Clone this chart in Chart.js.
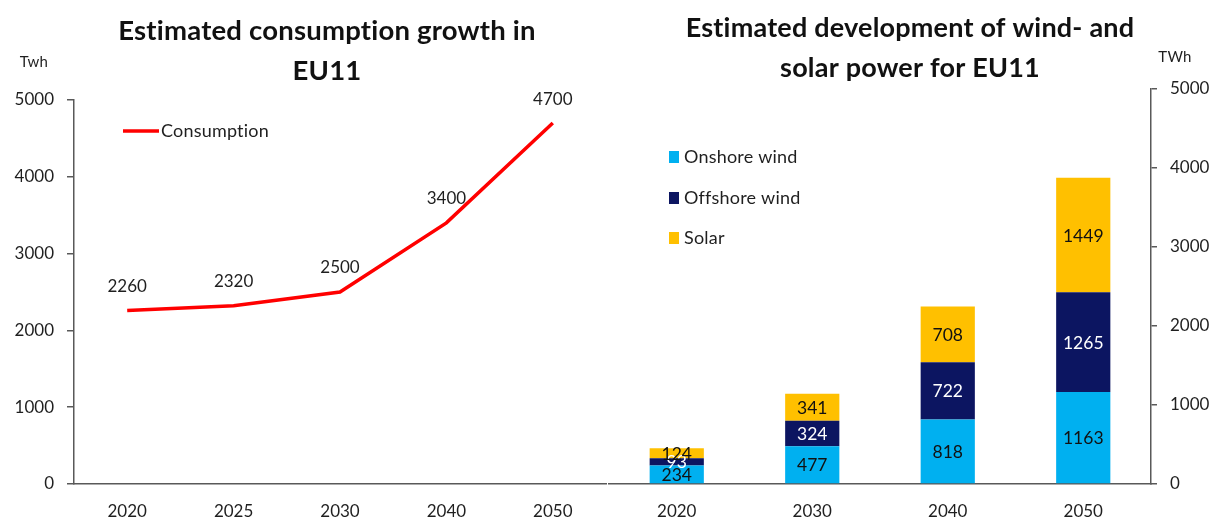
<!DOCTYPE html>
<html>
<head>
<meta charset="utf-8">
<script src="https://cdn.jsdelivr.net/npm/chart.js@4.4.1/dist/chart.umd.min.js"></script>
<style>
  html, body { margin: 0; padding: 0; background: #ffffff; }
  #wrap { position: relative; width: 1220px; height: 522px; overflow: hidden; }
  #leftBox { position: absolute; left: 0; top: 0; width: 610px; height: 522px; }
  #rightBox { position: absolute; left: 600px; top: 0; width: 620px; height: 522px; }
</style>
</head>
<body>
<div id="wrap">
  <div id="leftBox"><canvas id="consumption" width="610" height="522"></canvas></div>
  <div id="rightBox"><canvas id="renewables" width="620" height="522"></canvas></div>
</div>
<script>
// Consumption outlook (line chart)
const consumptionYears = ['2020', '2025', '2030', '2040', '2050'];
const consumptionTwh = [2260, 2320, 2500, 3400, 4700];

// Wind and solar build-out (stacked bars)
const buildYears = ['2020', '2030', '2040', '2050'];
const onshoreWind = [234, 477, 818, 1163];
const offshoreWind = [93, 324, 722, 1265];
const solarPower = [124, 341, 708, 1449];

// Shared axis ticks
const axisTicks = [0, 1000, 2000, 3000, 4000, 5000];

const FONT = 'Lato, "Open Sans", sans-serif';
const INK = '#1f1f1f';
const AXIS = '#595959';

Chart.defaults.font.family = FONT;
Chart.defaults.color = INK;
Chart.defaults.animation = false;

// Canvas text without ligatures (keeps "ti" as two letters)
function plainText(ctx) {
  if ('letterSpacing' in ctx) ctx.letterSpacing = '0.2px';
}

// Plugin: headings, unit caption and a hand-placed legend
function decorations(cfg) {
  return {
    id: 'decorations',
    afterDraw(chart) {
      const ctx = chart.ctx;
      ctx.save();
      plainText(ctx);
      ctx.fillStyle = '#111111';
      ctx.textAlign = 'center';
      ctx.textBaseline = 'middle';
      ctx.font = 'bold ' + cfg.titleSize + 'px ' + FONT;
      cfg.title.forEach((line, i) => ctx.fillText(line, cfg.titleX, cfg.titleY + i * 40));
      ctx.fillStyle = INK;
      ctx.font = '15px ' + FONT;
      ctx.fillText(cfg.unit, cfg.unitX, cfg.unitY);
      ctx.textAlign = 'left';
      ctx.font = '18px ' + FONT;
      cfg.legend.forEach(item => {
        ctx.fillStyle = item.color;
        if (item.kind === 'line') {
          ctx.fillRect(item.x, item.y - 1.75, 36, 3.5);
          ctx.fillStyle = INK;
          ctx.fillText(item.text, item.x + 38, item.y);
        } else {
          ctx.fillRect(item.x, item.y - 6, 10, 12);
          ctx.fillStyle = INK;
          ctx.fillText(item.text, item.x + 15, item.y);
        }
      });
      ctx.restore();
    }
  };
}

// Plugin: value labels above line points
const pointValues = {
  id: 'pointValues',
  afterDatasetsDraw(chart) {
    const ctx = chart.ctx;
    const ds = chart.data.datasets[0];
    const meta = chart.getDatasetMeta(0);
    ctx.save();
    ctx.font = '17px ' + FONT;
    ctx.fillStyle = INK;
    ctx.textAlign = 'center';
    ctx.textBaseline = 'middle';
    meta.data.forEach((pt, i) => {
      ctx.fillText(String(ds.data[i]), pt.x, pt.y - 24);
    });
    ctx.restore();
  }
};

// Plugin: value labels centred inside each bar segment
const segmentValues = {
  id: 'segmentValues',
  afterDatasetsDraw(chart) {
    const ctx = chart.ctx;
    ctx.save();
    ctx.font = '17.5px ' + FONT;
    ctx.textAlign = 'center';
    ctx.textBaseline = 'middle';
    chart.data.datasets.forEach((ds, di) => {
      const meta = chart.getDatasetMeta(di);
      meta.data.forEach((bar, i) => {
        ctx.fillStyle = ds.labelColor;
        const mid = (bar.y + bar.base) / 2;
        ctx.fillText(String(ds.data[i]), bar.x, mid + 1);
      });
    });
    ctx.restore();
  }
};

const plainNumber = v => String(v);

new Chart(document.getElementById('consumption'), {
  type: 'line',
  data: {
    labels: consumptionYears,
    datasets: [{
      label: 'Consumption',
      data: consumptionTwh,
      borderColor: '#ff0000',
      borderWidth: 3.5,
      pointRadius: 0,
      tension: 0,
      fill: false
    }]
  },
  options: {
    responsive: false,
    layout: { padding: { top: 100, right: 4, left: 0, bottom: 0 } },
    plugins: { legend: { display: false }, title: { display: false }, tooltip: { enabled: false } },
    scales: {
      x: {
        offset: true,
        grid: { display: false, drawTicks: false },
        border: { display: true, color: AXIS, width: 1.5 },
        ticks: { font: { size: 17 }, color: INK, padding: 17 },
        afterFit(scale) { scale.height = 38; }
      },
      y: {
        min: 0,
        max: 5000,
        afterBuildTicks(scale) { scale.ticks = axisTicks.map(v => ({ value: v })); },
        grid: { drawOnChartArea: false, drawTicks: true, tickLength: 7, color: AXIS, lineWidth: 1.5 },
        border: { display: true, color: AXIS, width: 1.5 },
        ticks: { font: { size: 17 }, color: INK, padding: 13, callback: plainNumber },
        afterFit(scale) { scale.width = 74; }
      }
    }
  },
  plugins: [pointValues, decorations({
    title: ['Estimated consumption growth in', 'EU11'],
    titleSize: 27.5,
    titleX: 327, titleY: 31,
    unit: 'Twh', unitX: 34, unitY: 62,
    legend: [{ kind: 'line', color: '#ff0000', text: 'Consumption', x: 123, y: 131 }]
  })]
});

new Chart(document.getElementById('renewables'), {
  type: 'bar',
  data: {
    labels: buildYears,
    datasets: [
      { label: 'Onshore wind', data: onshoreWind, backgroundColor: '#00b0f0', labelColor: '#111111' },
      { label: 'Offshore wind', data: offshoreWind, backgroundColor: '#0c1561', labelColor: '#ffffff' },
      { label: 'Solar', data: solarPower, backgroundColor: '#ffc000', labelColor: '#111111' }
    ]
  },
  options: {
    responsive: false,
    layout: { padding: { top: 89, right: 0, left: 9, bottom: 0 } },
    plugins: { legend: { display: false }, title: { display: false }, tooltip: { enabled: false } },
    datasets: { bar: { categoryPercentage: 1, barPercentage: 0.4 } },
    scales: {
      x: {
        stacked: true,
        grid: { display: false, drawTicks: false },
        border: { display: true, color: AXIS, width: 1.5 },
        ticks: { font: { size: 17 }, color: INK, padding: 17 },
        afterFit(scale) { scale.height = 38; }
      },
      y: {
        stacked: true,
        position: 'right',
        min: 0,
        max: 5000,
        afterBuildTicks(scale) { scale.ticks = axisTicks.map(v => ({ value: v })); },
        grid: { drawOnChartArea: false, drawTicks: true, tickLength: 6, color: AXIS, lineWidth: 1.5 },
        border: { display: true, color: AXIS, width: 1.5 },
        ticks: { font: { size: 17 }, color: INK, padding: 13, callback: plainNumber },
        afterFit(scale) { scale.width = 69; }
      }
    }
  },
  plugins: [segmentValues, decorations({
    title: ['Estimated development of wind- and', 'solar power for EU11'],
    titleSize: 27,
    titleX: 310, titleY: 28,
    unit: 'TWh', unitX: 575, unitY: 57,
    legend: [
      { kind: 'box', color: '#00b0f0', text: 'Onshore wind', x: 69, y: 157 },
      { kind: 'box', color: '#0c1561', text: 'Offshore wind', x: 69, y: 198 },
      { kind: 'box', color: '#ffc000', text: 'Solar', x: 69, y: 238 }
    ]
  })]
});
</script>
</body>
</html>
